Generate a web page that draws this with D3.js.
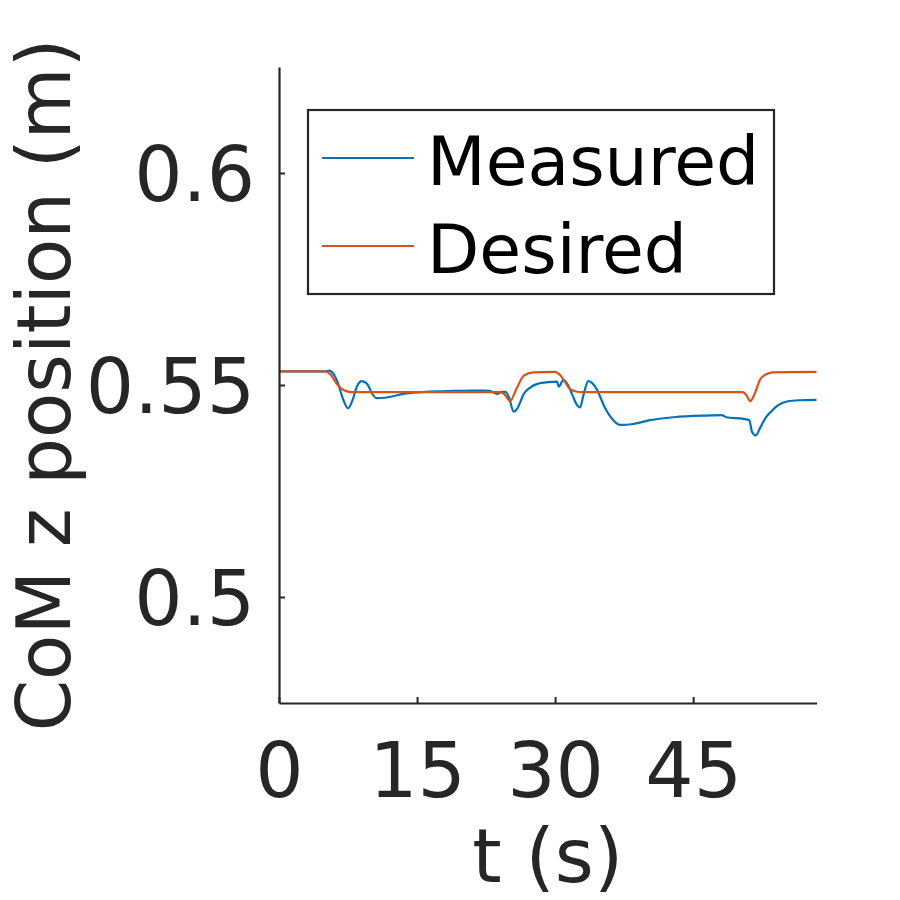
<!DOCTYPE html>
<html>
<head>
<meta charset="utf-8">
<script src="https://cdn.jsdelivr.net/npm/d3@7"></script>
<style>
  html, body { margin: 0; padding: 0; background: #fff; }
  svg { display: block; }
  text { font-family: "DejaVu Sans", sans-serif; }
</style>
</head>
<body>
<svg id="chart" width="900" height="900"></svg>
<script>
// ---- data ----
const seriesNames = ["Measured", "Desired"];
const xTicks = [0, 15, 30, 45];
const yTicks = [0.5, 0.55, 0.6];
const xLabel = "t (s)";
const yLabel = "CoM z position (m)";

const measuredT = [0, 3, 5.0, 5.5, 5.9, 6.4, 6.9, 7.5, 8.0, 8.5, 9.0, 9.6, 10.1, 10.6, 11.5, 13.5, 15.5, 17.1, 19, 20.8, 22.3, 22.9, 23.7, 24.2, 24.6, 25.0, 25.5, 25.9, 26.6, 27.3, 28.0, 29.0, 30.2, 30.4, 30.9, 31.4, 31.9, 32.4, 32.7, 33.1, 33.6, 34.0, 34.5, 35.4, 36.2, 37.1, 38.5, 40.3, 42.9, 46.5, 48.1, 48.6, 50.5, 51.1, 51.4, 51.8, 52.3, 52.8, 53.4, 54.2, 55.2, 56.5, 58.4];
const measuredZ = [0.5532, 0.5532, 0.5532, 0.5534, 0.5527, 0.5505, 0.5470, 0.5445, 0.5465, 0.5498, 0.5509, 0.5502, 0.5480, 0.5469, 0.5470, 0.5479, 0.5483, 0.5485, 0.5486, 0.5487, 0.5487, 0.5486, 0.5479, 0.5484, 0.5484, 0.5470, 0.5437, 0.5445, 0.5479, 0.5494, 0.5502, 0.5506, 0.5508, 0.5496, 0.5512, 0.5500, 0.5475, 0.5452, 0.5447, 0.5478, 0.5509, 0.5505, 0.5491, 0.5447, 0.5420, 0.5406, 0.5408, 0.5417, 0.5424, 0.5428, 0.5429, 0.5424, 0.5420, 0.5417, 0.5389, 0.5381, 0.5400, 0.5420, 0.5436, 0.5452, 0.5461, 0.5464, 0.5465];

const desiredT = [0, 5.0, 5.6, 6.3, 6.8, 7.4, 8.0, 24.0, 24.5, 25.1, 25.8, 26.6, 27.6, 30.0, 30.6, 31.6, 32.4, 33.0, 50.4, 50.8, 51.2, 51.6, 52.3, 53.0, 53.7, 58.4];
const desiredZ = [0.5532, 0.5532, 0.5525, 0.5502, 0.5491, 0.5485, 0.5483, 0.5483, 0.5478, 0.5462, 0.5491, 0.5522, 0.5530, 0.5531, 0.5522, 0.5491, 0.5484, 0.5483, 0.5483, 0.5475, 0.5462, 0.5475, 0.5514, 0.5526, 0.5530, 0.5531];

const colors = ["#0072BD", "#D95319"];

// ---- layout ----
const svg = d3.select("#chart");
const mLeft = 279, mRight = 816.5, mTop = 67, mBottom = 703;
const x = d3.scaleLinear().domain([0, 58.4]).range([mLeft, mRight]);
const y = d3.scaleLinear().domain([0.475, 0.625]).range([mBottom, mTop]);
const axisColor = "#262626";

// data lines
const line = d3.line().x(d => x(d[0])).y(d => y(d[1])).curve(d3.curveMonotoneX);
const measured = measuredT.map((t, i) => [t, measuredZ[i]]);
const desired = desiredT.map((t, i) => [t, desiredZ[i]]);

svg.append("path").datum(measured).attr("d", line)
  .attr("fill", "none").attr("stroke", colors[0]).attr("stroke-width", 2.2);
svg.append("path").datum(desired).attr("d", line)
  .attr("fill", "none").attr("stroke", colors[1]).attr("stroke-width", 2.2);

// axes
const xAxis = d3.axisBottom(x).tickValues(xTicks).tickSizeInner(-6).tickSizeOuter(0).tickFormat(d3.format("d")).tickPadding(52);
const yAxis = d3.axisLeft(y).tickValues(yTicks).tickSizeInner(-6).tickSizeOuter(0).tickFormat(d => String(d)).tickPadding(24);

const gx = svg.append("g").attr("transform", `translate(0,${mBottom})`).call(xAxis);
const gy = svg.append("g").attr("transform", `translate(${mLeft},0)`).call(yAxis);

[gx, gy].forEach(g => {
  g.select(".domain").attr("stroke", axisColor).attr("stroke-width", 2.2);
  g.selectAll(".tick line").attr("stroke", axisColor).attr("stroke-width", 2);
  g.selectAll(".tick text").attr("fill", axisColor)
    .style("font-family", "'DejaVu Sans', sans-serif").style("font-size", "76px");
});
gx.selectAll(".tick text").attr("dy", null).attr("y", 94);
gy.selectAll(".tick text").attr("dy", "0.36em");

// axis labels
svg.append("text").attr("x", (mLeft + mRight) / 2).attr("y", 882)
  .attr("text-anchor", "middle").attr("fill", axisColor)
  .style("font-size", "75px").text(xLabel);
svg.append("text").attr("transform", `translate(70,${(mTop + mBottom) / 2}) rotate(-90)`)
  .attr("text-anchor", "middle").attr("fill", axisColor)
  .style("font-size", "74px").text(yLabel);

// legend
const lg = svg.append("g");
lg.append("rect").attr("x", 308).attr("y", 110).attr("width", 466).attr("height", 184)
  .attr("fill", "#fff").attr("stroke", axisColor).attr("stroke-width", 2.2);
seriesNames.forEach((name, i) => {
  const yy = 158 + i * 88;
  lg.append("line").attr("x1", 322).attr("x2", 414).attr("y1", yy).attr("y2", yy)
    .attr("stroke", colors[i]).attr("stroke-width", 2);
  lg.append("text").attr("x", 427).attr("y", yy + 27).attr("fill", "#000")
    .style("font-size", "68px").text(name);
});
</script>
</body>
</html>
